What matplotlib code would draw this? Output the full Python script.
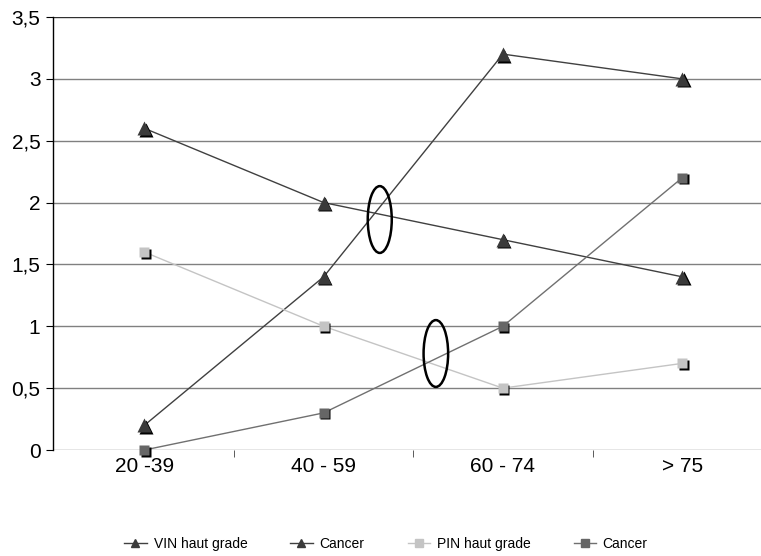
import matplotlib
matplotlib.use("Agg")
import matplotlib.pyplot as plt
import matplotlib.transforms as mtransforms
from matplotlib.patches import Ellipse
from matplotlib.lines import Line2D

categories = ["20 -39", "40 - 59", "60 - 74", "> 75"]
vin_haut_grade = [2.6, 2.0, 1.7, 1.4]
cancer_vin = [0.2, 1.4, 3.2, 3.0]
pin_haut_grade = [1.6, 1.0, 0.5, 0.7]
cancer_pin = [0.0, 0.3, 1.0, 2.2]
legend_labels = ["VIN haut grade", "Cancer", "PIN haut grade", "Cancer"]
y_ticks = [0, 0.5, 1, 1.5, 2, 2.5, 3, 3.5]
y_tick_labels = ["0", "0,5", "1", "1,5", "2", "2,5", "3", "3,5"]

plt.rcParams['font.family'] = ['Liberation Sans', 'DejaVu Sans']

fig = plt.figure(figsize=(7.61, 5.56), dpi=100)
ax = fig.add_axes([53/761, 1-450/556, 1-53/761, (450-17)/556])

x = list(range(len(categories)))
series = [
    (vin_haut_grade, '#404040', '#3a3a3a', '^', 10),
    (cancer_vin, '#404040', '#3a3a3a', '^', 10),
    (pin_haut_grade, '#c4c4c4', '#c4c4c4', 's', 7),
    (cancer_pin, '#707070', '#666666', 's', 7),
]
shadow = mtransforms.offset_copy(ax.transData, fig=fig, x=1.5, y=-1.5, units='dots')
for vals, lc, mc, mk, ms in series:
    ax.plot(x, vals, color=lc, lw=1.0, zorder=3)
    ax.plot(x, vals, ls='none', marker=mk, ms=ms, mfc='black', mec='none',
            transform=shadow, zorder=4, clip_on=False)
    ax.plot(x, vals, ls='none', marker=mk, ms=ms, mfc=mc, mec='none', zorder=5,
            clip_on=False)

ax.add_patch(Ellipse((1.313, 1.863), 0.134, 0.54, fill=False, lw=1.8,
                     ec='black', zorder=6))
ax.add_patch(Ellipse((1.626, 0.78), 0.137, 0.54, fill=False, lw=1.8,
                     ec='black', zorder=6))

ax.set_xlim(-0.51, 3.44)
ax.set_ylim(0, 3.5)
ax.set_yticks(y_ticks)
ax.set_yticklabels(y_tick_labels, fontsize=15)
ax.set_xticks(x)
ax.set_xticklabels(categories, fontsize=15)
ax.set_xticks([0.5, 1.5, 2.5], minor=True)
ax.tick_params(axis='x', which='major', length=0, pad=5)
ax.tick_params(axis='x', which='minor', length=5, direction='out', color='#404040')
ax.tick_params(axis='y', length=5, direction='out', pad=4)
for y in y_ticks:
    ax.axhline(y, color='#808080' if y < 3.5 else '#303030', lw=1.0, zorder=1)
for s in ['top', 'right', 'bottom']:
    ax.spines[s].set_visible(False)
ax.spines['left'].set_color('black')
ax.spines['left'].set_linewidth(1.0)

handles = []
for (vals, lc, mc, mk, ms), lab in zip(series, legend_labels):
    handles.append(Line2D([], [], color=lc, lw=1.0, marker=mk, ms=6,
                          mfc=mc, mec=mc))
fig.legend(handles, legend_labels, loc='center', bbox_to_anchor=(386/761, 1-544/556),
           ncol=4, frameon=False, prop={'size': 10},
           handlelength=1.6, columnspacing=3.1, handletextpad=0.5)

fig.savefig('out.png', dpi=100)
